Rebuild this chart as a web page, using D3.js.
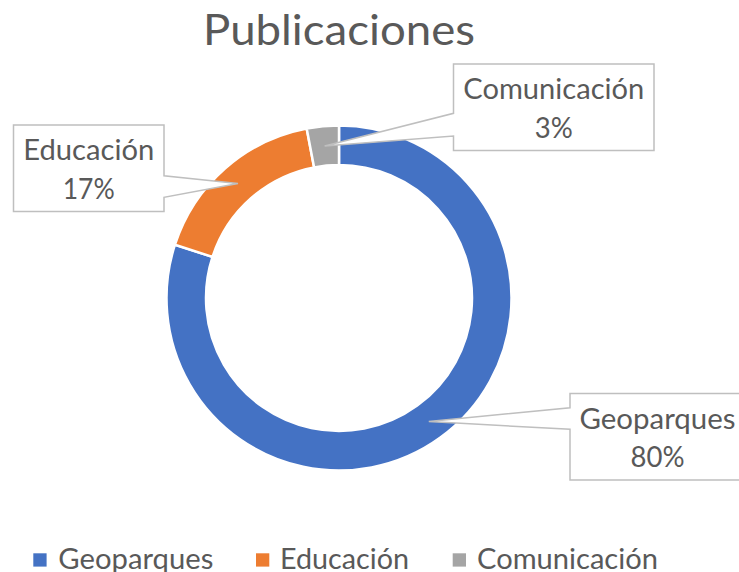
<!DOCTYPE html>
<html>
<head>
<meta charset="utf-8">
<script src="https://cdn.jsdelivr.net/npm/d3@7"></script>
<style>
  html, body { margin: 0; padding: 0; background: #fff; }
  svg { display: block; }
  text { font-family: Lato, "Open Sans", sans-serif; fill: #595959; }
</style>
</head>
<body>
<div id="chart"></div>
<script>
// ---- data ----
const title = "Publicaciones";
const categories = ["Geoparques", "Educación", "Comunicación"];
const values = [80, 17, 3];
const colors = ["#4472C4", "#ED7D31", "#A5A5A5"];

// ---- layout ----
const W = 739, H = 572;
const cx = 339, cy = 298;
const outerR = 172.5, innerR = 133;

// callout boxes: [x0, y0, x1, y1], side of the pointer, pointer base range (y)
const callouts = [
  { box: [570, 393.5, 745, 480], side: "left",  base: [407.7, 429.3], nameW: 156, pctW: 54 },
  { box: [13.5, 125, 164, 211.5], side: "right", base: [175.7, 197.3], nameW: 131, pctW: 52 },
  { box: [453.5, 64, 654, 150.5], side: "left",  base: [113.3, 136],   nameW: 181, pctW: 38 }
];
const legendItems = [
  { sq: 33.3, tx: 58.3, w: 155 },
  { sq: 256,  tx: 280,  w: 129 },
  { sq: 452.7, tx: 477, w: 181 }
];

const svg = d3.select("#chart").append("svg")
  .attr("width", W).attr("height", H);

// title
svg.append("text")
  .attr("x", 339).attr("y", 45)
  .attr("text-anchor", "middle")
  .attr("font-size", 42)
  .attr("textLength", 272)
  .attr("lengthAdjust", "spacingAndGlyphs")
  .text(title);

// donut
const pie = d3.pie().sort(null).value(d => d)
  .startAngle(0).endAngle(2 * Math.PI);
const arcs = pie(values);
const arc = d3.arc().innerRadius(innerR).outerRadius(outerR);

const g = svg.append("g").attr("transform", `translate(${cx},${cy})`);
g.selectAll("path.slice")
  .data(arcs)
  .join("path")
  .attr("class", "slice")
  .attr("d", arc)
  .attr("fill", (d, i) => colors[i])
  .attr("stroke", "#fff")
  .attr("stroke-width", 2.5)
  .attr("stroke-linejoin", "miter");

// callouts
const total = d3.sum(values);
const pctFmt = v => Math.round(v / total * 100) + "%";

arcs.forEach((a, i) => {
  const c = callouts[i];
  const [tx, ty] = arc.centroid(a);
  const tip = [cx + tx, cy + ty];
  const [x0, y0, x1, y1] = c.box;
  const [b1, b2] = c.base;
  let pts;
  if (c.side === "right") {
    pts = [[x0, y0], [x1, y0], [x1, b1], tip, [x1, b2], [x1, y1], [x0, y1]];
  } else {
    pts = [[x0, y0], [x1, y0], [x1, y1], [x0, y1], [x0, b2], tip, [x0, b1]];
  }
  svg.append("path")
    .attr("d", d3.line()(pts) + "Z")
    .attr("fill", "#fff")
    .attr("stroke", "#BFBFBF")
    .attr("stroke-width", 1.5);

  const mx = i === 0 ? 657.5 : (x0 + x1) / 2;
  svg.append("text")
    .attr("x", mx).attr("y", y0 + 35)
    .attr("text-anchor", "middle")
    .attr("font-size", 29)
    .attr("textLength", c.nameW)
    .attr("lengthAdjust", "spacingAndGlyphs")
    .text(categories[i]);
  svg.append("text")
    .attr("x", mx).attr("y", y0 + 73.5)
    .attr("text-anchor", "middle")
    .attr("font-size", 29)
    .attr("textLength", c.pctW)
    .attr("lengthAdjust", "spacingAndGlyphs")
    .text(pctFmt(values[i]));
});

// legend
const lg = svg.append("g");
categories.forEach((cat, i) => {
  const it = legendItems[i];
  lg.append("rect")
    .attr("x", it.sq).attr("y", 553.3)
    .attr("width", 13.3).attr("height", 13.3)
    .attr("fill", colors[i]);
  lg.append("text")
    .attr("x", it.tx).attr("y", 568.5)
    .attr("font-size", 28)
    .attr("textLength", it.w)
    .attr("lengthAdjust", "spacingAndGlyphs")
    .text(cat);
});
</script>
</body>
</html>
